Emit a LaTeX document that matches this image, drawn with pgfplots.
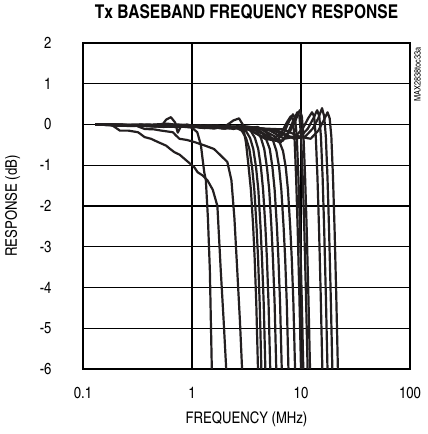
\documentclass[border=0pt]{standalone}
\usepackage{fontspec}
\setmainfont{texgyreheroscn}[Extension=.otf, UprightFont=*-regular, BoldFont=*-bold]
\usepackage{pgfplots}
\pgfplotsset{compat=1.18}
\definecolor{curve}{HTML}{231F20}

\begin{document}
\begin{tikzpicture}
\begin{axis}[
  name=ax,
  scale only axis,
  width=327pt, height=326pt,
  xmode=log,
  xmin=0.1, xmax=100, ymin=-6, ymax=2,
  xtick={0.1,1,10,100}, xticklabels={0.1,1,10,100},
  ytick={-6,-5,...,2}, yticklabels={-6,-5,-4,-3,-2,-1,0,1,2},
  major tick length=0pt, minor tick length=0pt,
  grid=major,
  grid style={black, line width=1.3pt},
  axis line style={line width=2.6pt},
  tick label style={font=\fontsize{16}{16}\selectfont},
  x tick label style={yshift=-15pt},
  y tick label style={xshift=-28pt},
  xlabel={FREQUENCY (MHz)}, ylabel={RESPONSE (dB)},
  label style={font=\fontsize{16}{16}\selectfont},
  xlabel style={at={(axis description cs:0.5,-0.153)}, anchor=center},
  ylabel style={at={(axis description cs:-0.215,0.5)}, anchor=center},
  title={\textbf{Tx BASEBAND FREQUENCY RESPONSE}},
  title style={at={(axis description cs:0.5,1.076)}, anchor=center, font=\fontsize{19}{19}\selectfont},
  cycle list={curve\\},
  every axis plot/.append style={line width=2.2pt, mark=none, solid, line join=round},
]
% low cutoff settings
\addplot coordinates {(0.13,0)(0.25,-0.02)(0.4,0)(0.52,-0.05)(0.58,0.12)(0.64,0.18)(0.70,0.05)(0.74,-0.2)(0.79,-0.05)(0.9,-0.03)(1.0,-0.08)(1.118,-0.19)(1.207,-0.51)(1.295,-1.17)(1.34,-1.37)(1.40,-2.3)(1.458,-3.57)(1.52,-6)(1.56,-6.8)};
\addplot coordinates {(0.13,0)(0.18,0)(0.2,-0.08)(0.218,-0.15)(0.26,-0.15)(0.32,-0.19)(0.368,-0.31)(0.42,-0.35)(0.487,-0.43)(0.58,-0.52)(0.63,-0.6)(0.69,-0.68)(0.77,-0.74)(0.851,-0.84)(0.95,-0.95)(1.05,-1.05)(1.125,-1.17)(1.25,-1.25)(1.386,-1.37)(1.55,-1.6)(1.71,-2.0)(1.835,-3.57)(1.95,-4.8)(2.06,-6)(2.11,-6.8)};
\addplot coordinates {(0.13,0)(0.3,-0.02)(0.368,-0.11)(0.45,-0.12)(0.523,-0.15)(0.667,-0.19)(0.72,-0.28)(0.767,-0.35)(0.9,-0.38)(1.05,-0.43)(1.29,-0.51)(1.59,-0.6)(1.835,-0.76)(2.11,-0.92)(2.3,-1.37)(2.45,-2.3)(2.6,-3.57)(2.75,-4.8)(2.88,-6)(2.95,-6.8)};
% mid cutoff settings
\addplot coordinates {(0.13,0)(0.3,-0.03)(0.6,0.02)(1.0,-0.06)(1.5,-0.02)(2.0,-0.05)(2.4,0.1)(2.7,0.15)(2.92,0.0)(3.13,-0.45)(3.31,-1.05)(3.47,-1.6)(3.64,-2.5)(3.76,-3.3)(3.89,-4.4)(4.03,-6)(4.14,-6.7)};
\addplot coordinates {(0.13,0)(0.2,-0.02)(0.35,0)(0.5,-0.04)(0.7,-0.02)(1,-0.07)(1.4,-0.03)(2.0,-0.1)(2.43,-0.05)(2.86,-0.15)(3.13,-0.33)(3.36,-0.6)(3.56,-1.05)(3.73,-1.6)(3.91,-2.5)(4.04,-3.3)(4.18,-4.4)(4.33,-6)(4.45,-6.7)};
\addplot coordinates {(0.13,0)(0.25,-0.03)(0.4,-0.01)(0.6,-0.05)(0.9,0)(1.2,-0.08)(1.7,-0.02)(2.2,-0.1)(2.65,-0.05)(3.11,-0.15)(3.41,-0.33)(3.65,-0.6)(3.87,-1.05)(4.06,-1.6)(4.25,-2.5)(4.39,-3.3)(4.55,-4.4)(4.71,-6)(4.84,-6.7)};
\addplot coordinates {(0.13,0)(0.22,-0.01)(0.45,-0.05)(0.8,-0.01)(1.1,-0.06)(1.6,-0.1)(2.1,-0.03)(2.5,-0.09)(2.93,-0.05)(3.45,-0.15)(3.78,-0.33)(4.05,-0.6)(4.29,-1.05)(4.49,-1.6)(4.71,-2.5)(4.87,-3.3)(5.04,-4.4)(5.22,-6)(5.37,-6.7)};
\addplot coordinates {(0.13,0)(0.3,-0.02)(0.55,-0.06)(0.85,-0.02)(1.3,-0.09)(1.8,-0.04)(2.4,-0.11)(2.9,-0.05)(3.33,-0.08)(3.92,-0.15)(4.29,-0.33)(4.60,-0.6)(4.87,-1.05)(5.11,-1.6)(5.35,-2.5)(5.53,-3.3)(5.73,-4.4)(5.93,-6)(6.10,-6.7)};
\addplot coordinates {(0.13,0)(0.28,-0.04)(0.5,0)(0.95,-0.07)(1.4,-0.02)(2.0,-0.1)(2.6,-0.04)(3.2,-0.12)(3.74,-0.08)(4.40,-0.2)(4.82,-0.38)(5.17,-0.6)(5.47,-1.05)(5.73,-1.6)(6.01,-2.5)(6.21,-3.3)(6.43,-4.4)(6.66,-6)(6.85,-6.7)};
\addplot coordinates {(0.13,0)(0.35,-0.02)(0.7,-0.06)(1.2,-0.02)(1.9,-0.1)(2.7,-0.05)(3.5,-0.12)(4.31,-0.1)(5.07,-0.25)(5.55,-0.4)(5.95,-0.65)(6.30,-1.05)(6.60,-1.6)(6.92,-2.5)(7.16,-3.3)(7.41,-4.4)(7.67,-6)(7.88,-6.7)};
\addplot coordinates {(0.13,0)(0.4,-0.03)(0.75,0)(1.3,-0.07)(2.1,-0.03)(3.0,-0.1)(4.0,-0.06)(4.96,-0.2)(5.83,-0.3)(6.39,-0.45)(6.84,-0.65)(7.25,-1.05)(7.59,-1.6)(7.96,-2.5)(8.23,-3.3)(8.52,-4.4)(8.82,-6)(9.07,-6.7)};
% high cutoff settings, with peaking
\addplot coordinates {(0.13,0)(0.5,-0.03)(1,-0.06)(2,-0.04)(3.16,-0.1)(4.47,-0.3)(5.62,-0.35)(6.61,-0.2)(7.41,0.05)(8.04,0.2)(8.41,0.12)(8.71,-0.3)(9.02,-1.3)(9.33,-2.6)(9.66,-4.2)(10.0,-6)(10.28,-6.7)};
\addplot coordinates {(0.13,0)(0.5,-0.02)(1,-0.05)(2,-0.07)(3.32,-0.12)(4.69,-0.35)(5.90,-0.4)(6.94,-0.22)(7.78,0.08)(8.44,0.25)(8.83,0.15)(9.15,-0.3)(9.47,-1.3)(9.80,-2.6)(10.14,-4.2)(10.5,-6)(10.79,-6.7)};
\addplot coordinates {(0.13,0)(0.5,-0.04)(1,-0.03)(2,-0.06)(3.63,-0.12)(5.14,-0.3)(6.46,-0.45)(7.60,-0.2)(8.52,0.1)(9.25,0.3)(9.67,0.2)(10.02,-0.3)(10.37,-1.3)(10.73,-2.6)(11.11,-4.2)(11.5,-6)(11.82,-6.7)};
\addplot coordinates {(0.13,0)(0.5,-0.02)(1,-0.06)(2,-0.05)(3.82,-0.1)(5.41,-0.35)(6.80,-0.4)(8.00,-0.15)(8.97,0.12)(9.73,0.35)(10.18,0.2)(10.54,-0.3)(10.91,-1.3)(11.29,-2.6)(11.69,-4.2)(12.1,-6)(12.44,-6.7)};
\addplot coordinates {(0.13,0)(0.5,-0.03)(1,-0.05)(2,-0.08)(3,-0.05)(4.96,-0.12)(7.02,-0.35)(8.82,-0.3)(10.38,-0.1)(11.63,0.15)(12.62,0.3)(13.20,0.2)(13.67,-0.3)(14.16,-1.3)(14.65,-2.6)(15.17,-4.2)(15.7,-6)(16.14,-6.7)};
\addplot coordinates {(0.13,0)(0.5,-0.02)(1,-0.04)(2,-0.06)(3,-0.08)(5.53,-0.15)(7.82,-0.3)(9.84,-0.3)(11.57,-0.1)(12.97,0.15)(14.07,0.35)(14.72,0.2)(15.24,-0.3)(15.79,-1.3)(16.33,-2.6)(16.91,-4.2)(17.5,-6)(17.99,-6.7)};
\addplot coordinates {(0.13,0)(0.5,-0.03)(1,-0.05)(2,-0.07)(3,-0.04)(6.13,-0.15)(8.67,-0.35)(10.90,-0.3)(12.82,-0.1)(14.38,0.15)(15.60,0.4)(16.32,0.2)(16.90,-0.3)(17.50,-1.3)(18.10,-2.6)(18.74,-4.2)(19.4,-6)(19.94,-6.7)};
\addplot coordinates {(0.13,0)(0.5,-0.02)(1,-0.06)(2,-0.05)(3,-0.08)(6.89,-0.12)(9.74,-0.3)(12.25,-0.35)(14.41,-0.15)(16.15,0.1)(17.53,0.3)(18.33,0.15)(18.99,-0.3)(19.66,-1.3)(20.34,-2.6)(21.06,-4.2)(21.8,-6)(22.41,-6.7)};
\end{axis}
\node[rotate=90, anchor=north east, inner sep=0pt, font=\fontsize{9}{9}\selectfont] at ([shift={(4pt,-4pt)}]ax.north east) {MAX2838toc33a};
\pgfresetboundingbox
\path[use as bounding box] ([shift={(-83pt,-65pt)}]ax.south west) rectangle ([shift={(17pt,43pt)}]ax.north east);
\end{tikzpicture}
\end{document}
